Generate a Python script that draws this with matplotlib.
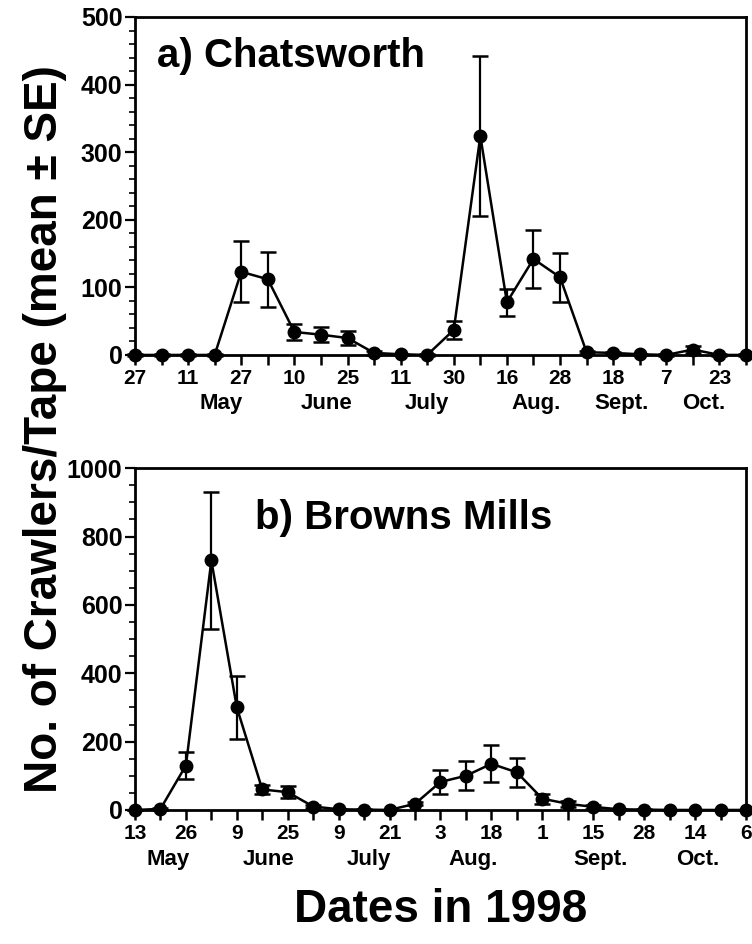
import numpy as np
import matplotlib
matplotlib.use("Agg")
import matplotlib.pyplot as plt
from matplotlib.ticker import MultipleLocator, FixedLocator

plt.rcParams['font.family'] = ['Liberation Sans', 'DejaVu Sans']
plt.rcParams['font.weight'] = 'bold'

# a) Chatsworth, sampling dates (index positions), 27 Apr .. 30 Oct
chat_ticklabels = ['27', '11', '27', '10', '25', '11', '30', '16', '28', '18', '7', '23']
chat_months = ['May', 'June', 'July', 'Aug.', 'Sept.', 'Oct.']
chat_month_pos = [3.25, 7.2, 11.0, 15.1, 18.3, 21.4]
chat_mean = [0, 0, 0, 0, 123, 112, 34, 30, 25, 3, 1, 0,
             37, 324, 78, 142, 115, 4, 3, 1, 0, 8, 0, 0]
chat_se = [1, 1, 1, 1, 45, 41, 12, 11, 11, 3, 1, 1,
           13, 118, 20, 43, 36, 2, 2, 1, 1, 5, 1, 1]

# b) Browns Mills, 13 May .. 6 Oct
brown_ticklabels = ['13', '26', '9', '25', '9', '21', '3', '18', '1', '15', '28', '14', '6']
brown_months = ['May', 'June', 'July', 'Aug.', 'Sept.', 'Oct.']
brown_month_pos = [1.3, 5.25, 9.2, 13.3, 18.3, 22.1]
brown_mean = [0, 3, 130, 730, 300, 60, 52, 10, 2, 1, 0, 18,
              82, 100, 135, 110, 33, 18, 9, 2, 1, 0, 0, 0, 0]
brown_se = [1, 2, 40, 200, 93, 13, 17, 5, 2, 1, 1, 4,
            36, 42, 54, 42, 15, 8, 5, 1, 1, 1, 1, 1, 1]


def draw_panel(ax, mean, se, ticklabels, months, month_pos, ymax, major, minor, title, title_xy):
    x = np.arange(len(mean))
    ax.errorbar(x, mean, yerr=se, color='black', lw=1.8, marker='o', ms=9,
                capsize=6, capthick=1.8, elinewidth=1.6, clip_on=False, zorder=3)
    ax.set_xlim(0, len(mean) - 1)
    ax.set_ylim(0, ymax)
    ax.xaxis.set_major_locator(FixedLocator(x))
    ax.set_xticklabels([ticklabels[i // 2] if i % 2 == 0 else '' for i in x])
    ax.yaxis.set_major_locator(MultipleLocator(major))
    ax.yaxis.set_minor_locator(MultipleLocator(minor))
    ax.tick_params(axis='x', direction='out', length=7, width=1.8, labelsize=15, pad=3)
    ax.tick_params(axis='y', which='major', direction='out', length=7, width=1.6, labelsize=18, pad=2)
    ax.tick_params(axis='y', which='minor', direction='out', length=4, width=1.2)
    for lab in ax.get_xticklabels() + ax.get_yticklabels():
        lab.set_fontweight('bold')
    for s in ax.spines.values():
        s.set_linewidth(2)
    for m, p in zip(months, month_pos):
        ax.text(p, -0.145, m, transform=ax.get_xaxis_transform(), ha='center', va='center',
                fontsize=16, fontweight='bold')
    ax.text(title_xy[0], title_xy[1], title, transform=ax.transAxes, ha='left', va='center',
            fontsize=29, fontweight='bold')


fig = plt.figure(figsize=(7.52, 9.44), dpi=100)
ax1 = fig.add_axes([0.1795, 0.624, 0.8125, 0.358])
ax2 = fig.add_axes([0.1795, 0.142, 0.8125, 0.362])

draw_panel(ax1, chat_mean, chat_se, chat_ticklabels, chat_months, chat_month_pos,
           500, 100, 20, 'a) Chatsworth', (0.036, 0.885))
draw_panel(ax2, brown_mean, brown_se, brown_ticklabels, brown_months, brown_month_pos,
           1000, 200, 50, 'b) Browns Mills', (0.197, 0.855))

fig.text(0.06, 0.546, 'No. of Crawlers/Tape (mean \u00b1 SE)', rotation=90, ha='center', va='center',
         fontsize=33, fontweight='bold')
fig.text(0.586, 0.036, 'Dates in 1998', ha='center', va='center', fontsize=33, fontweight='bold')

fig.savefig('out.png', dpi=100)
